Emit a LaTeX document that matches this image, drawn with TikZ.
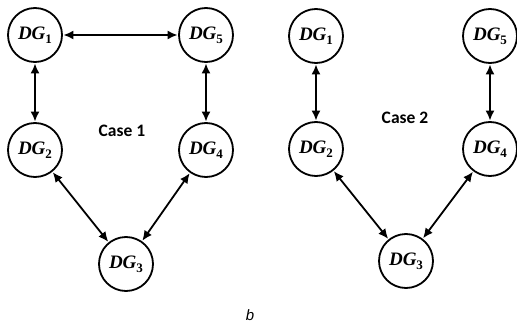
\documentclass[tikz,border=0pt]{standalone}
\usepackage{fontspec}
\setmainfont{Liberation Serif}
\newfontfamily\casefont{Carlito}
\newfontfamily\capfont{Liberation Sans}
\usetikzlibrary{arrows.meta}
\begin{document}
\begin{tikzpicture}[x=1pt,y=-1pt,
  dg/.style={circle,draw,line width=1.8pt,minimum size=54pt,inner sep=0pt,font=\fontsize{19}{19}\selectfont\bfseries\itshape},
  link/.style={line width=1.8pt,{Latex[length=10pt,width=9pt]}-{Latex[length=10pt,width=9pt]},shorten <=0.5pt,shorten >=0.5pt},
  lbl/.style={font=\casefont\bfseries\fontsize{17.5}{17.5}\selectfont}]
\useasboundingbox (0,0) rectangle (517,329);
\newcommand{\dglab}[1]{DG\raisebox{-4pt}{\upshape\fontsize{13}{13}\selectfont #1}}
% Case 1
\node[dg] (a1) at (35,35) {\dglab{1}};
\node[dg] (a5) at (206,35) {\dglab{5}};
\node[dg] (a2) at (35,150) {\dglab{2}};
\node[dg] (a4) at (206,150) {\dglab{4}};
\node[dg] (a3) at (126,264) {\dglab{3}};
\node[lbl] (c1) at (122,131) {Case 1};
\draw[link] (a1) -- (a5);
\draw[link] (a1) -- (a2);
\draw[link] (a5) -- (a4);
\draw[link] (a2) -- (a3);
\draw[link] (a4) -- (a3);
% Case 2
\node[dg] (b1) at (316,36) {\dglab{1}};
\node[dg] (b5) at (490,36) {\dglab{5}};
\node[dg] (b2) at (316,149) {\dglab{2}};
\node[dg] (b4) at (490,149) {\dglab{4}};
\node[dg] (b3) at (406,261) {\dglab{3}};
\node[lbl] (c2) at (405,118) {Case 2};
\draw[link] (b1) -- (b2);
\draw[link] (b5) -- (b4);
\draw[link] (b2) -- (b3);
\draw[link] (b4) -- (b3);
\node[font=\capfont\itshape\fontsize{15}{15}\selectfont] (cap) at (250,315) {b};
\end{tikzpicture}
\end{document}
